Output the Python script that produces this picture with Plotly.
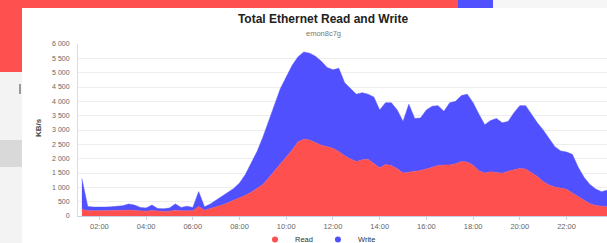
import pandas as pd
import plotly.graph_objects as go

# ---- data (KB/s, 15-minute samples starting 01:15) ----
start_time = "2024-01-01 01:15"
read_kbs = [230, 190, 180, 180, 180, 190, 190, 200, 210, 200,
            180, 170, 190, 170, 160, 170, 200, 180, 190, 180,
            330, 200, 260, 310, 380, 460, 540, 620, 720, 830,
            960, 1100, 1330, 1570, 1820, 2050, 2300, 2580, 2680, 2650,
            2550, 2470, 2420, 2360, 2250, 2100, 1990, 1900, 1960, 1980,
            1830, 1680, 1800, 1760, 1650, 1500, 1530, 1550, 1590, 1640,
            1710, 1760, 1780, 1780, 1820, 1900, 1880, 1770, 1580, 1500,
            1540, 1520, 1490, 1560, 1610, 1660, 1640, 1500, 1380, 1200,
            1080, 1010, 970, 930, 800, 680, 540, 430, 370, 340, 320]
write_kbs = [1070, 140, 130, 120, 130, 130, 140, 160, 210, 180,
             120, 110, 190, 90, 90, 110, 220, 120, 150, 120,
             520, 120, 160, 250, 300, 360, 420, 530, 730, 1020,
             1290, 1650, 1970, 2330, 2630, 2800, 2950, 2970, 3040, 3030,
             3020, 2930, 2760, 2740, 2900, 2550, 2460, 2350, 2340, 2270,
             2320, 2020, 2150, 2190, 2050, 1800, 2370, 1850, 1830, 2060,
             2120, 2090, 1870, 2170, 2180, 2300, 2370, 2180, 1970, 1680,
             1790, 1880, 1760, 1740, 1990, 2190, 2210, 2050, 1870, 1800,
             1620, 1410, 1300, 1300, 1350, 1020, 810, 670, 570, 510, 580]
series_names = ["Read", "Write"]
title_text = "Total Ethernet Read and Write"
subtitle_text = "emon8c7g"
y_title = "KB/s"

times = pd.date_range(start_time, periods=len(read_kbs), freq="15min")

# ---- layout geometry (pixels) ----
W, H = 607, 243
ML, MR, MT, MB = 78, 0, 44, 27
PW, PH = W - ML - MR, H - MT - MB


def px(x):
    return (x - ML) / PW


def py(y):
    return (H - MB - y) / PH


RED = "#ff5050"
BLUE = "#5050ff"
colors = [RED, BLUE]

fig = go.Figure()
for name, vals, col in zip(series_names, [read_kbs, write_kbs], colors):
    fig.add_trace(go.Scatter(x=times, y=vals, name=name, mode="lines",
                             stackgroup="one", line=dict(color=col, width=0.5),
                             fillcolor=col, showlegend=False))
# legend entries (round symbols, as in the reference)
for name, col in zip(series_names, colors):
    fig.add_trace(go.Scatter(x=[None], y=[None], name=name, mode="markers",
                             marker=dict(color=col, size=6, symbol="circle"),
                             showlegend=True))

shapes = [
    # page background around the chart panel
    dict(type="rect", xref="paper", yref="paper", x0=px(0), x1=px(458), y0=py(0), y1=py(8),
         fillcolor=RED, line=dict(width=0), layer="below"),
    dict(type="rect", xref="paper", yref="paper", x0=px(458), x1=px(493), y0=py(0), y1=py(8),
         fillcolor=BLUE, line=dict(width=0), layer="below"),
    dict(type="rect", xref="paper", yref="paper", x0=px(493), x1=px(607), y0=py(0), y1=py(8),
         fillcolor="#f6f6f6", line=dict(width=0), layer="below"),
    dict(type="rect", xref="paper", yref="paper", x0=px(0), x1=px(22), y0=py(0), y1=py(72),
         fillcolor=RED, line=dict(width=0), layer="below"),
    dict(type="rect", xref="paper", yref="paper", x0=px(0), x1=px(22), y0=py(72), y1=py(243),
         fillcolor="#f3f3f3", line=dict(width=0), layer="below"),
    dict(type="rect", xref="paper", yref="paper", x0=px(0), x1=px(22), y0=py(140), y1=py(167),
         fillcolor="#d9d9d9", line=dict(width=0), layer="below"),
    dict(type="rect", xref="paper", yref="paper", x0=px(19), x1=px(21), y0=py(84), y1=py(94),
         fillcolor="#9a9a9a", line=dict(width=0), layer="below"),
]

fig.update_layout(
    width=W, height=H,
    margin=dict(l=ML, r=MR, t=MT, b=MB, pad=0, autoexpand=False),
    paper_bgcolor="white", plot_bgcolor="white",
    font=dict(family="Liberation Sans, Arial, sans-serif", size=8, color="#666666"),
    separators=". ",
    showlegend=True,
    title=dict(text="<b>" + title_text + "</b>", x=323 / W, xref="container", xanchor="center",
               y=1 - 19 / H, yref="container", yanchor="middle",
               font=dict(size=12, color="#222222")),
    legend=dict(orientation="h", x=px(318), xanchor="center", y=py(225), yanchor="top",
                traceorder="normal",
                font=dict(size=7.5, color="#333333"), itemwidth=30, tracegroupgap=0,
                bgcolor="rgba(0,0,0,0)"),
    xaxis=dict(type="date", range=["2024-01-01 01:05", "2024-01-01 23:44"],
               tickformat="%H:%M", dtick=2 * 3600 * 1000, tick0="2024-01-01 00:00",
               showgrid=False, showline=True, linecolor="#c8d2e6", linewidth=1,
               ticks="outside", ticklen=3, tickcolor="#c8d2e6",
               tickfont=dict(size=7.5, color="#666666"), ticklabelstandoff=0),
    yaxis=dict(range=[0, 6000], dtick=500, tickformat=",d",
               showgrid=True, gridcolor="#eeeeee", gridwidth=1,
               showline=True, linecolor="#dddddd", linewidth=1,
               zeroline=False, ticks="", ticklabelstandoff=6,
               tickfont=dict(size=7, color="#666666")),
    shapes=shapes,
    annotations=[
        dict(text=subtitle_text, xref="paper", yref="paper", x=px(323), y=py(33),
             showarrow=False, font=dict(size=7.5, color="#777777"),
             xanchor="center", yanchor="middle"),
        dict(text="<b>" + y_title + "</b>", xref="paper", yref="paper", x=px(38), y=py(128),
             showarrow=False, textangle=-90, font=dict(size=8, color="#444444"),
             xanchor="center", yanchor="middle"),
    ],
)

fig.write_html("out.html", config={"displayModeBar": False},
               post_script="document.body.style.margin='0';document.body.style.overflow='hidden';")
